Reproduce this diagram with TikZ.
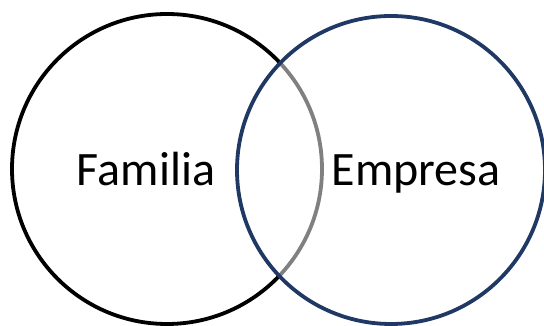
\documentclass[tikz,border=0pt]{standalone}
\usepackage{fontspec}
\setmainfont{Carlito}
\usepackage{tikz}
\usetikzlibrary{positioning}
\definecolor{empresablue}{HTML}{1F3864}

\begin{document}
\begin{tikzpicture}[x=1pt,y=1pt,every node/.style={font=\fontsize{48}{56}\selectfont,inner sep=0pt}]
\useasboundingbox (0,0) rectangle (544,326);
\draw[black,line width=3.8pt] (167,157) circle (155);
\draw[empresablue,line width=3.8pt,fill=white,fill opacity=0.5] (391,156) circle (154);
\node[anchor=base] (fam) at (146,140) {Familia};
\node[anchor=base] (emp) at (416,140) {Empresa};
\end{tikzpicture}
\end{document}
